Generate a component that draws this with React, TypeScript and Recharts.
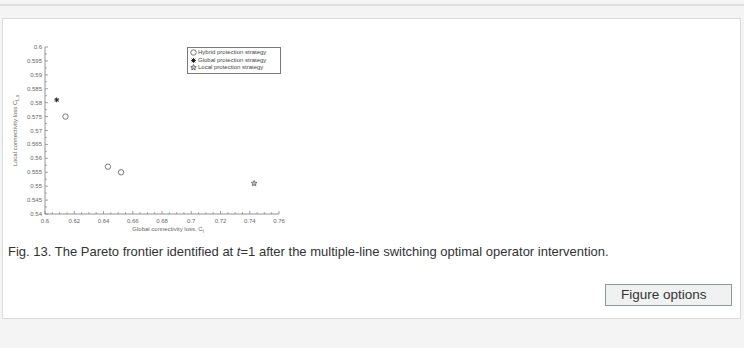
import { ScatterChart, Scatter, XAxis, YAxis, Legend } from 'recharts';

// Pareto points: [global loss C_l, local loss C_L,s]
const hybridX = [0.614, 0.643, 0.652];
const hybridY = [0.575, 0.557, 0.555];
const globalX = [0.608];
const globalY = [0.581];
const localX = [0.743];
const localY = [0.551];

const xMajorTicks = [0.6, 0.62, 0.64, 0.66, 0.68, 0.7, 0.72, 0.74, 0.76];
const yMajorTicks = [
  0.54, 0.545, 0.55, 0.555, 0.56, 0.565, 0.57, 0.575, 0.58, 0.585, 0.59, 0.595, 0.6,
];

const seriesNames = [
  'Hybrid protection strategy',
  'Global protection strategy',
  'Local protection strategy',
];

const toPoints = (xs: number[], ys: number[]) => xs.map((x, i) => ({ x, y: ys[i] }));
const hybridData = toPoints(hybridX, hybridY);
const globalData = toPoints(globalX, globalY);
const localData = toPoints(localX, localY);

// minor ticks sit between the majors (4 per x interval, 2 per y interval)
const withMinors = (majors: number[], parts: number) => {
  const out: number[] = [];
  majors.forEach((m, i) => {
    out.push(m);
    if (i < majors.length - 1) {
      const step = (majors[i + 1] - m) / parts;
      for (let k = 1; k < parts; k++) out.push(+(m + step * k).toFixed(5));
    }
  });
  return out;
};
const xTicks = withMinors(xMajorTicks, 4);
const yTicks = withMinors(yMajorTicks, 2);

const INK = '#555';
const AXIS = '#7a7a7a';
const TICK_TEXT = '#666';
const FONT = 'Arial, "Liberation Sans", sans-serif';
const SMALL = 6;

const isMajor = (v: number, majors: number[]) => majors.some((m) => Math.abs(m - v) < 1e-6);
const fmt = (v: number) => String(+v.toFixed(4));

const BottomTick = ({ x, y, payload }: any) => {
  const major = isMajor(payload.value, xMajorTicks);
  return (
    <g>
      <line x1={x} x2={x} y1={y} y2={y - (major ? 3 : 1.8)} stroke={AXIS} strokeWidth={0.7} />
      {major && (
        <text x={x} y={y + 9} textAnchor="middle" fontSize={SMALL} fill={TICK_TEXT} fontFamily={FONT}>
          {fmt(payload.value)}
        </text>
      )}
    </g>
  );
};

const TopTick = ({ x, y, payload }: any) => {
  const major = isMajor(payload.value, xMajorTicks);
  return <line x1={x} x2={x} y1={y} y2={y + (major ? 3 : 1.8)} stroke={AXIS} strokeWidth={0.7} />;
};

const LeftTick = ({ x, y, payload }: any) => {
  const major = isMajor(payload.value, yMajorTicks);
  return (
    <g>
      <line x1={x} x2={x + (major ? 3 : 1.8)} y1={y} y2={y} stroke={AXIS} strokeWidth={0.7} />
      {major && (
        <text x={x - 3} y={y + 2} textAnchor="end" fontSize={SMALL} fill={TICK_TEXT} fontFamily={FONT}>
          {fmt(payload.value)}
        </text>
      )}
    </g>
  );
};

const RightTick = ({ x, y, payload }: any) => {
  const major = isMajor(payload.value, yMajorTicks);
  return <line x1={x} x2={x - (major ? 3 : 1.8)} y1={y} y2={y} stroke={AXIS} strokeWidth={0.7} />;
};

const CircleMark = ({ cx, cy }: any) => (
  <circle cx={cx} cy={cy} r={2.7} fill="#fff" stroke={INK} strokeWidth={0.8} />
);

const AsteriskMark = ({ cx, cy }: any) => (
  <g stroke="#222" strokeWidth={1} strokeLinecap="round">
    <line x1={cx - 2} x2={cx + 2} y1={cy} y2={cy} />
    <line x1={cx} x2={cx} y1={cy - 2} y2={cy + 2} />
    <line x1={cx - 1.5} x2={cx + 1.5} y1={cy - 1.5} y2={cy + 1.5} />
    <line x1={cx - 1.5} x2={cx + 1.5} y1={cy + 1.5} y2={cy - 1.5} />
  </g>
);

const starPath = (cx: number, cy: number, r: number) => {
  const pts: string[] = [];
  for (let i = 0; i < 10; i++) {
    const a = -Math.PI / 2 + (i * Math.PI) / 5;
    const rr = i % 2 === 0 ? r : r * 0.5;
    pts.push(`${(cx + rr * Math.cos(a)).toFixed(2)},${(cy + rr * Math.sin(a)).toFixed(2)}`);
  }
  return `M${pts.join('L')}Z`;
};

const StarMark = ({ cx, cy }: any) => (
  <path d={starPath(cx, cy, 3)} fill="#bbb" stroke={INK} strokeWidth={0.7} />
);

const markers = [CircleMark, AsteriskMark, StarMark];

const LegendBox = () => (
  <div
    style={{
      background: '#fff',
      border: `1px solid ${AXIS}`,
      width: 90,
      padding: '1px 0 1px 2px',
      fontFamily: FONT,
      fontSize: SMALL,
      color: '#444',
      lineHeight: '7px',
    }}
  >
    {seriesNames.map((name, i) => {
      const M = markers[i];
      return (
        <div key={name} style={{ display: 'flex', alignItems: 'center', height: 7.5, whiteSpace: 'nowrap' }}>
          <svg width={7} height={7} style={{ overflow: 'visible' }}>
            <M cx={3.5} cy={3.5} />
          </svg>
          <span style={{ marginLeft: 1 }}>{name}</span>
        </div>
      );
    })}
  </div>
);

const XLabel = ({ viewBox }: any) => (
  <text
    x={viewBox.x + viewBox.width / 2 + 6}
    y={viewBox.y + 17}
    textAnchor="middle"
    fontSize={SMALL}
    fill={TICK_TEXT}
    fontFamily={FONT}
  >
    Global connectivity loss, C
    <tspan fontSize={4.5} dy={1.5}>l</tspan>
  </text>
);

const YLabel = ({ viewBox }: any) => {
  const cx = 17;
  const cy = viewBox.y + viewBox.height / 2;
  return (
    <text
      x={cx}
      y={cy}
      transform={`rotate(-90 ${cx} ${cy})`}
      textAnchor="middle"
      fontSize={SMALL}
      fill={TICK_TEXT}
      fontFamily={FONT}
    >
      Local connectivity loss C
      <tspan fontSize={4.5} dy={1.5}>L,s</tspan>
    </text>
  );
};

export default function App() {
  return (
    <div
      style={{
        position: 'absolute',
        top: 0,
        left: 0,
        width: 744,
        height: 348,
        background: '#f4f4f4',
        fontFamily: FONT,
        overflow: 'hidden',
      }}
    >
      <div style={{ position: 'absolute', top: 4, left: 0, width: 744, height: 2, background: '#e0e0e0' }} />
      <div
        style={{
          position: 'absolute',
          top: 18,
          left: 2,
          width: 737,
          height: 299,
          background: '#fff',
          border: '1px solid #dadada',
        }}
      />
      <div style={{ position: 'absolute', top: 30, left: 0 }}>
        <ScatterChart width={300} height={220} margin={{ top: 17, right: 21, bottom: 16, left: 15 }}>
          <XAxis
            xAxisId="b"
            type="number"
            dataKey="x"
            domain={[0.6, 0.76]}
            ticks={xTicks}
            interval={0}
            allowDataOverflow
            height={20}
            stroke={AXIS}
            strokeWidth={0.8}
            tickLine={false}
            tickSize={0}
            tickMargin={0}
            tick={<BottomTick />}
            label={<XLabel />}
          />
          <XAxis
            xAxisId="t"
            orientation="top"
            type="number"
            dataKey="x"
            domain={[0.6, 0.76]}
            ticks={xTicks}
            interval={0}
            allowDataOverflow
            height={0}
            stroke={AXIS}
            strokeWidth={0.8}
            tickLine={false}
            tickSize={0}
            tickMargin={0}
            tick={<TopTick />}
          />
          <YAxis
            yAxisId="l"
            type="number"
            dataKey="y"
            domain={[0.54, 0.6]}
            ticks={yTicks}
            interval={0}
            allowDataOverflow
            width={30}
            stroke={AXIS}
            strokeWidth={0.8}
            tickLine={false}
            tickSize={0}
            tickMargin={0}
            tick={<LeftTick />}
            label={<YLabel />}
          />
          <YAxis
            yAxisId="r"
            orientation="right"
            type="number"
            dataKey="y"
            domain={[0.54, 0.6]}
            ticks={yTicks}
            interval={0}
            allowDataOverflow
            width={0}
            stroke={AXIS}
            strokeWidth={0.8}
            tickLine={false}
            tickSize={0}
            tickMargin={0}
            tick={<RightTick />}
          />
          <Legend
            layout="horizontal"
            verticalAlign="middle"
            align="center"
            content={<LegendBox />}
            wrapperStyle={{ top: 17, left: 187, width: 92 }}
          />
          <Scatter
            name={seriesNames[0]}
            data={hybridData}
            xAxisId="b"
            yAxisId="l"
            shape={<CircleMark />}
            isAnimationActive={false}
          />
          <Scatter
            name={seriesNames[1]}
            data={globalData}
            xAxisId="b"
            yAxisId="l"
            shape={<AsteriskMark />}
            isAnimationActive={false}
          />
          <Scatter
            name={seriesNames[2]}
            data={localData}
            xAxisId="b"
            yAxisId="l"
            shape={<StarMark />}
            isAnimationActive={false}
          />
        </ScatterChart>
      </div>
      <div
        style={{
          position: 'absolute',
          top: 244,
          left: 8,
          fontSize: 13,
          color: '#333',
          whiteSpace: 'nowrap',
        }}
      >
        Fig. 13. The Pareto frontier identified at <i>t</i>=1 after the multiple-line switching optimal
        operator intervention.
      </div>
      <div
        style={{
          position: 'absolute',
          top: 284,
          left: 605,
          width: 127,
          height: 22,
          boxSizing: 'border-box',
          background: '#f0f1f1',
          border: '1px solid #8d979c',
          fontSize: 13.5,
          color: '#333',
          lineHeight: '20px',
          paddingLeft: 15,
        }}
      >
        Figure options
      </div>
    </div>
  );
}
